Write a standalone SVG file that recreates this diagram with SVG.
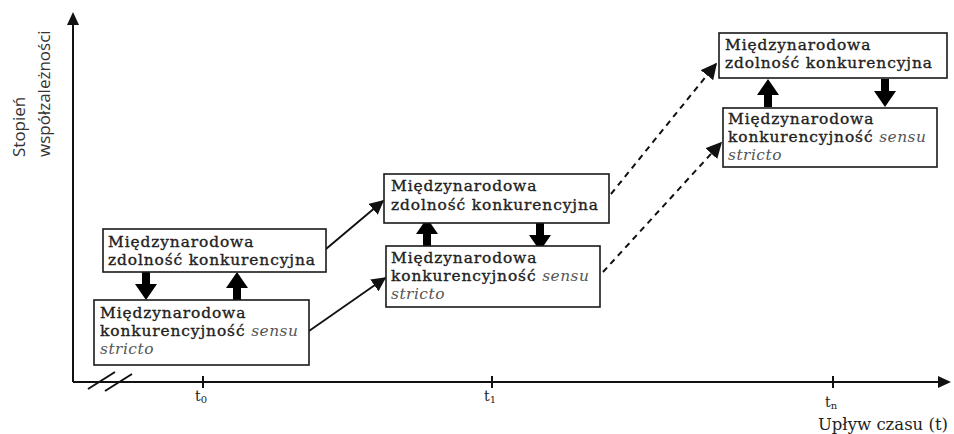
<svg xmlns="http://www.w3.org/2000/svg" width="954" height="434" viewBox="0 0 954 434">
<style>
.box{fill:#fff;stroke:#1a1a1a;stroke-width:1.6}
.t{font-family:"DejaVu Serif","Liberation Serif",serif;font-size:15.4px;letter-spacing:0.9px;fill:#222;stroke:#222;stroke-width:0.35}
.i{font-style:italic;fill:#555;stroke:none;letter-spacing:0.5px}
.ax{stroke:#111;stroke-width:2;fill:none}
.con{stroke:#111;stroke-width:1.8;fill:none}
.dash{stroke:#111;stroke-width:2;fill:none;stroke-dasharray:6,5}
.lab{font-family:"DejaVu Serif","Liberation Serif",serif;font-size:14px;fill:#222}
.ylab{font-family:"Open Sans","Noto Sans",sans-serif;font-size:17px;fill:#333}
.big{fill:#000}
</style>
<defs>
<marker id="ah2" viewBox="0 0 10 10" refX="9" refY="5" markerWidth="8" markerHeight="8" orient="auto">
<path d="M0,0 L10,5 L0,10 z" fill="#111"/>
</marker>
<path id="down" d="M-4,0 H4 V12 H11 L0,28 L-11,12 H-4 Z"/>
<path id="up" d="M-4,0 H4 V-12 H11 L0,-28 L-11,-12 H-4 Z"/>
</defs>
<rect width="954" height="434" fill="#fff"/>

<g id="axes">
<line class="ax" x1="73" y1="382" x2="73" y2="22"/>
<path d="M73,12 L67,25 L79,25 Z" fill="#111"/>
<line class="ax" x1="73" y1="382" x2="940" y2="382"/>
<path d="M951,382 L938,376 L938,388 Z" fill="#111"/>
<line class="ax" x1="88" y1="389" x2="115" y2="372" stroke-width="1.5"/>
<line class="ax" x1="105" y1="391" x2="132" y2="374" stroke-width="1.5"/>
<line class="ax" x1="203" y1="376" x2="203" y2="388" stroke-width="1.5"/>
<line class="ax" x1="492" y1="376" x2="492" y2="388" stroke-width="1.5"/>
<line class="ax" x1="833" y1="376" x2="833" y2="388" stroke-width="1.5"/>
<text class="lab" x="195" y="401">t<tspan style="font-size:10px" dy="2">0</tspan></text>
<text class="lab" x="484" y="401">t<tspan style="font-size:10px" dy="2">1</tspan></text>
<text class="lab" x="825" y="407">t<tspan style="font-size:10px" dy="2">n</tspan></text>
<text class="lab" x="948" y="430" text-anchor="end" style="font-size:16.5px">Upływ czasu (t)</text>
<text class="ylab" transform="translate(25,157) rotate(-90)">Stopień</text>
<text class="ylab" transform="translate(50,157) rotate(-90)">współzależności</text>
</g>

<g id="connectors">
<line class="con" x1="326" y1="249" x2="383" y2="201" marker-end="url(#ah2)"/>
<line class="con" x1="309" y1="331" x2="385" y2="278" marker-end="url(#ah2)"/>
<line class="dash" x1="611" y1="194" x2="716" y2="64" marker-end="url(#ah2)"/>
<line class="dash" x1="603" y1="272" x2="721" y2="143" marker-end="url(#ah2)"/>
<use href="#down" class="big" x="146" y="272"/>
<use href="#up" class="big" x="237" y="300"/>
<use href="#up" class="big" x="427" y="246"/>
<use href="#down" class="big" x="540" y="223"/>
<use href="#up" class="big" x="768" y="107"/>
<use href="#down" class="big" x="885" y="79"/>
</g>

<g id="n1">
<rect class="box" x="103" y="229" width="223" height="43"/>
<text class="t" x="108" y="247">Międzynarodowa</text>
<text class="t" x="108" y="265">zdolność konkurencyjna</text>
</g>
<g id="n2">
<rect class="box" x="94" y="300" width="215" height="65"/>
<text class="t" x="100" y="318">Międzynarodowa</text>
<text class="t" x="100" y="336">konkurencyjność <tspan class="i">sensu</tspan></text>
<text class="t i" x="100" y="354">stricto</text>
</g>
<g id="n3">
<rect class="box" x="384" y="174" width="225" height="49"/>
<text class="t" x="391" y="191">Międzynarodowa</text>
<text class="t" x="391" y="210">zdolność konkurencyjna</text>
</g>
<g id="n4">
<rect class="box" x="386" y="246" width="214" height="61"/>
<text class="t" x="391" y="263">Międzynarodowa</text>
<text class="t" x="391" y="281">konkurencyjność <tspan class="i">sensu</tspan></text>
<text class="t i" x="391" y="299">stricto</text>
</g>
<g id="n5">
<rect class="box" x="719" y="33" width="228" height="45"/>
<text class="t" x="725" y="50">Międzynarodowa</text>
<text class="t" x="725" y="68">zdolność konkurencyjna</text>
</g>
<g id="n6">
<rect class="box" x="723" y="108" width="214" height="59"/>
<text class="t" x="728" y="124">Międzynarodowa</text>
<text class="t" x="728" y="142">konkurencyjność <tspan class="i">sensu</tspan></text>
<text class="t i" x="728" y="160">stricto</text>
</g>
</svg>
